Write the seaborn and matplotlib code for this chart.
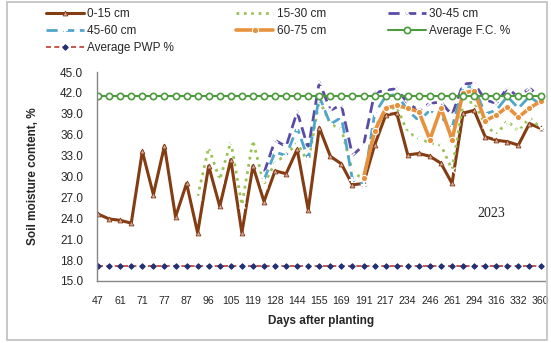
import numpy as np
import pandas as pd
import matplotlib
matplotlib.use("Agg")
import matplotlib.pyplot as plt
import seaborn as sns
from matplotlib.patches import Rectangle

# ---------- Data ----------
n_points = 41
day_labels = [47, 61, 71, 77, 87, 96, 105, 119, 128, 144, 155, 169, 191,
              217, 234, 246, 261, 294, 316, 332, 360]   # every other point is labelled
nan = np.nan

depth_0_15 = [24.6, 23.9, 23.7, 23.3, 33.6, 27.4, 34.4, 24.2, 29.0, 21.9,
              31.5, 25.7, 32.4, 21.9, 31.5, 26.4, 30.8, 30.4, 33.9, 25.2,
              37.0, 32.9, 31.8, 28.8, 29.0, 34.5, 38.8, 39.1, 33.1, 33.3,
              32.9, 31.9, 29.0, 39.1, 39.5, 35.7, 35.2, 35.0, 34.5, 37.6, 36.9]
depth_15_30 = [nan] * 9 + [27.1, 34.2, 29.5, 35.0, 25.9, 35.2, 28.8, 32.0, 33.1, 34.8,
                           32.0, 41.0, 37.5, 36.8, 30.8, 29.5, 37.0, 39.5, 40.0, 36.3,
                           35.5, 34.8, 34.5, 31.0, 40.5, 40.7, 37.4, 36.0, 38.0, 36.5,
                           38.4, 37.0]
depth_30_45 = [nan] * 15 + [30.5, 35.2, 34.3, 39.3, 34.0, 43.6, 39.5, 40.3, 33.0, 34.5,
                            42.0, 42.4, 42.6, 40.5, 39.5, 40.5, 40.7, 38.8, 43.3, 43.4,
                            41.0, 40.5, 42.7, 41.4, 42.7, 41.4]
depth_45_60 = [nan] * 15 + [29.5, 33.5, 33.0, 37.0, 32.5, 41.5, 37.5, 38.5, 29.5, 28.8,
                            39.0, 41.5, 41.8, 39.5, 38.0, 39.5, 38.5, 37.0, 43.0, 42.8,
                            39.0, 39.5, 41.5, 39.8, 41.5, 40.3]
depth_60_75 = [nan] * 24 + [29.8, 36.5, 39.8, 40.2, 39.8, 39.3, 35.3, 39.8, 35.3, 42.0,
                            42.3, 38.0, 38.8, 40.0, 38.5, 39.8, 40.8]
avg_fc = 41.6
avg_pwp = 17.2

df = pd.DataFrame({
    "point": np.arange(n_points),
    "0-15 cm": depth_0_15,
    "15-30 cm": depth_15_30,
    "30-45 cm": depth_30_45,
    "45-60 cm": depth_45_60,
    "60-75 cm": depth_60_75,
    "Average F.C. %": [avg_fc] * n_points,
    "Average PWP %": [avg_pwp] * n_points,
})

# ---------- Styles ----------
styles = {
    "0-15 cm": dict(color="#843C12", linestyle="-", lw=2.2, marker="^", ms=3.5,
                    mfc="#D8A8A0", mec="#843C12", mew=0.6),
    "15-30 cm": dict(color="#9BC257", linestyle=":", lw=2.0, marker="x", ms=4.5, mew=1.0),
    "30-45 cm": dict(color="#5A4CA6", linestyle=(0, (4, 2)), lw=2.0, marker="x", ms=4.5, mew=1.2),
    "45-60 cm": dict(color="#4FA6CC", linestyle=(0, (4, 2)), lw=2.0, marker="+", ms=5, mew=1.5),
    "60-75 cm": dict(color="#E8913C", linestyle="-", lw=2.6, marker="o", ms=4.5),
    "Average F.C. %": dict(color="#4E9A3E", linestyle="-", lw=1.5, marker="o", ms=4.5,
                           mfc="white", mec="#4E9A3E", mew=1.2),
    "Average PWP %": dict(color="#C0392B", linestyle=(0, (3, 2)), lw=1.2, marker="D", ms=2.8,
                          mfc="#1F3276", mec="#1F3276"),
}

sns.set_theme(style="white")
plt.rcParams["font.family"] = ["Liberation Sans", "DejaVu Sans"]

fig = plt.figure(figsize=(5.51, 3.43), dpi=100)
ax = fig.add_axes([0.176, 0.181, 0.813, 0.609])

for name, st in styles.items():
    sns.lineplot(data=df, x="point", y=name, ax=ax, label=name, **st)

ax.set_xlim(-0.1, 40.4)
ax.set_ylim(15, 45)
ax.set_yticks(np.arange(15, 45.1, 3))
ax.set_yticklabels([f"{v:.1f}" for v in np.arange(15, 45.1, 3)], fontsize=8.5)
ax.set_xticks(np.arange(0, n_points, 2))
ax.set_xticklabels([str(d) for d in day_labels], fontsize=7.6)
ax.tick_params(axis="y", direction="inout", length=4, width=0.8, color="#868686", pad=8)
ax.tick_params(axis="x", length=0, pad=11)

for side in ["top", "right"]:
    ax.spines[side].set_visible(False)
for side in ["left", "bottom"]:
    ax.spines[side].set_color("#868686")
    ax.spines[side].set_linewidth(1.0)

ax.set_xlabel("Days after planting", fontsize=8.5, fontweight="bold", labelpad=6)
ax.set_ylabel("Soil moisture content, %", fontsize=8.5, fontweight="bold", labelpad=15)

ax.text(0.88, 0.325, "2023", transform=ax.transAxes, ha="center", va="center",
        fontsize=10, family=["Liberation Serif", "DejaVu Serif"], color="#222222")

# legend: 3 columns, row-wise order like the reference
handles, labels = ax.get_legend_handles_labels()
ax.get_legend().remove()
order = [0, 3, 6, 1, 4, 2, 5]
fig.legend([handles[i] for i in order], [labels[i] for i in order],
           ncol=3, loc="upper left", bbox_to_anchor=(0.075, 0.99, 0.86, 0.0),
           mode="expand", frameon=False, fontsize=8.5, handlelength=3.2,
           labelspacing=0.42, handletextpad=0.3, borderaxespad=0)

fig.add_artist(Rectangle((0.012, 0.008), 0.98, 0.985, transform=fig.transFigure,
                         fill=False, edgecolor="#BFBFBF", lw=1.2))

plt.savefig("out.png", dpi=100)
